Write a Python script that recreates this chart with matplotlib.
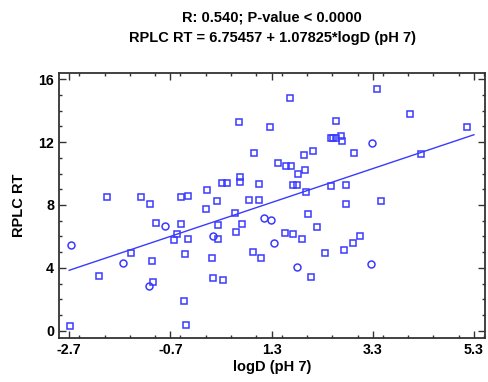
import numpy as np
import matplotlib
matplotlib.use("Agg")
import matplotlib.pyplot as plt
from matplotlib.ticker import MultipleLocator, FixedLocator

# squares: logD vs RPLC RT
sq_x = [-1.95, -1.28, -1.11, -0.48, -0.35, 0.03, 0.23, 0.01, 0.66, 1.26, 0.96, 1.42,
        0.33, 0.42, 0.68, 0.68, 1.06, 0.86, 1.06, 1.66, 3.38, 4.03, 5.17, 2.57, 2.48,
        2.52, 2.57, 2.68, 2.70, 2.92, 2.12, 1.94, 1.58, 1.69, 1.83, 1.96, 1.72, 1.81,
        1.99, 2.48, 2.77, 2.78, 3.47, 4.26, -2.68, -2.12, -1.47, -1.06, -1.04, -0.99,
        -0.48, -0.57, -0.62, -0.35, -0.41, -0.44, -0.39, 0.25, 0.25, 0.12, 0.14, 0.34,
        0.57, 0.59, 0.72, 0.93, 1.10, 2.03, 2.20, 1.57, 1.72, 1.90, 2.07, 2.35, 2.73,
        2.91, 3.04]
sq_y = [8.50, 8.50, 8.07, 8.50, 8.54, 8.96, 8.26, 7.75, 13.27, 12.99, 11.32, 10.70,
        9.39, 9.39, 9.77, 9.47, 9.32, 8.34, 8.34, 14.78, 15.39, 13.80, 12.97, 13.34, 12.29,
        12.29, 12.29, 12.38, 12.04, 11.32, 11.46, 11.17, 10.45, 10.47, 10.00, 10.21, 9.24, 9.30,
        8.85, 9.20, 9.24, 8.07, 8.28, 11.24, 0.32, 3.50, 4.95, 4.46, 3.08, 6.88,
        6.82, 6.14, 5.76, 5.84, 4.89, 1.91, 0.36, 5.84, 6.73, 4.61, 3.36, 3.23,
        7.52, 6.27, 6.82, 5.01, 4.61, 7.43, 6.61, 6.20, 6.14, 5.84, 3.42, 4.95, 5.16,
        5.61, 6.05]
# circles
ci_x = [-2.66, -1.63, -1.12, -0.80, 0.15, 1.15, 1.28, 1.35, 1.80, 3.27, 3.29]
ci_y = [5.48, 4.33, 2.87, 6.69, 6.05, 7.20, 7.05, 5.61, 4.08, 4.25, 11.97]

intercept, slope = 6.75457, 1.07825
x_ticks = [-2.7, -0.7, 1.3, 3.3, 5.3]

BLUE = "#3a3aff"
plt.rcParams.update({"font.family": ["Liberation Sans", "DejaVu Sans"], "font.weight": "bold"})
fig = plt.figure(figsize=(4.88, 3.82), dpi=100)
ax = fig.add_axes([0.121, 0.115, 0.873, 0.694])

ax.plot(sq_x, sq_y, "s", ms=4, mfc="none", mec=BLUE, mew=1.1)
ax.plot(ci_x, ci_y, "o", ms=5, mfc="none", mec=BLUE, mew=1.1)
lx = np.array([min(sq_x + ci_x), max(sq_x + ci_x)])
lx = np.array([-2.7, 5.3])
ax.plot(lx, intercept + slope * lx, color=BLUE, lw=1)

ax.set_xlim(-2.9, 5.52)
ax.set_ylim(-0.47, 16.4)
ax.xaxis.set_major_locator(FixedLocator(x_ticks))
ax.xaxis.set_minor_locator(MultipleLocator(0.5))
ax.yaxis.set_major_locator(MultipleLocator(4))
ax.yaxis.set_minor_locator(MultipleLocator(1))
ax.set_xticklabels([f"{t:g}" for t in x_ticks])
ax.tick_params(which="both", direction="in", top=True, right=True, labelsize=10.3, width=1, color="#333")
ax.tick_params(which="major", length=5)
ax.tick_params(which="minor", length=2.5)
for s in ax.spines.values():
    s.set_linewidth(1.3)
    s.set_color("#333")
for lab in ax.get_xticklabels() + ax.get_yticklabels():
    lab.set_fontweight("bold")

ax.set_xlabel("logD (pH 7)", fontsize=10.5, fontweight="bold", labelpad=2)
ax.set_ylabel("RPLC RT", fontsize=10.5, fontweight="bold", labelpad=9)
ax.set_title("R: 0.540; P-value < 0.0000\nRPLC RT = 6.75457 + 1.07825*logD (pH 7)",
             fontsize=10.5, fontweight="bold", pad=22, linespacing=1.6)

fig.savefig("out.png", dpi=100, facecolor="white")
